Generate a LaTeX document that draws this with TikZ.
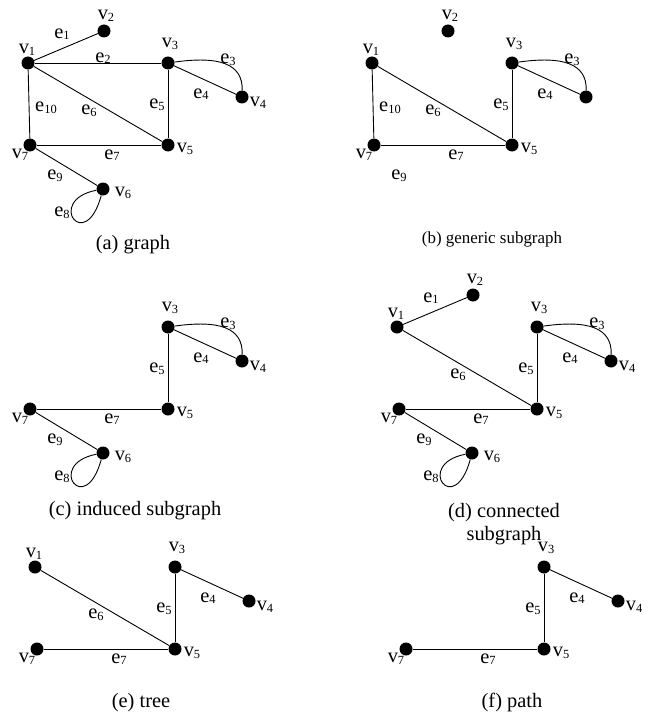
\documentclass[tikz,border=0pt]{standalone}
\usepackage{fontspec}
\setmainfont{Liberation Serif}
\newcommand\mysub[2]{#1\lower1.6bp\hbox{\fontsize{12.5}{12.5}\selectfont #2}}
% vertices (dot) and vertex labels
\newcommand\myvA{\node[dot] (v1) at (28,63) {};}
\newcommand\myvB{\node[dot] (v2) at (104,31) {};}
\newcommand\myvC{\node[dot] (v3) at (168,63) {};}
\newcommand\myvD{\node[dot] (v4) at (242,97) {};}
\newcommand\myvE{\node[dot] (v5) at (168,145) {};}
\newcommand\myvF{\node[dot] (v6) at (103,189) {};}
\newcommand\myvG{\node[dot] (v7) at (30,145) {};}
\newcommand\mylA{\node[lab] (lv1) at (27,50) {\mysub{v}{1}};}
\newcommand\mylB{\node[lab] (lv2) at (106,16) {\mysub{v}{2}};}
\newcommand\mylC{\node[lab] (lv3) at (170,44) {\mysub{v}{3}};}
\newcommand\mylD{\node[lab] (lv4) at (258,103) {\mysub{v}{4}};}
\newcommand\mylE{\node[lab] (lv5) at (185,149) {\mysub{v}{5}};}
\newcommand\mylF{\node[lab] (lv6) at (123,193) {\mysub{v}{6}};}
\newcommand\mylG{\node[lab] (lv7) at (20,155) {\mysub{v}{7}};}
% edges with labels
\newcommand\myeA{\draw[edgeline] (v1) -- (v2); \node[lab] (le1) at (62,34) {\mysub{e}{1}};}
\newcommand\myeB{\draw[edgeline] (v1) -- (v3); \node[lab] (le2) at (103,58) {\mysub{e}{2}};}
\newcommand\myeC{\draw[edgeline] (v3) .. controls +(50,-7) and +(1,-34) .. (v4); \node[lab] (le3) at (228,60) {\mysub{e}{3}};}
\newcommand\myeD{\draw[edgeline] (v3) -- (v4); \node[lab] (le4) at (201,94) {\mysub{e}{4}};}
\newcommand\myeE{\draw[edgeline] (v3) -- (v5); \node[lab] (le5) at (157,105) {\mysub{e}{5}};}
\newcommand\myeF{\draw[edgeline] (v1) -- (v5); \node[lab] (le6) at (89,111) {\mysub{e}{6}};}
\newcommand\myeG{\draw[edgeline] (v7) -- (v5); \node[lab] (le7) at (112,155) {\mysub{e}{7}};}
\newcommand\myeH{\draw[edgeline] (v6) .. controls +(-58,11) and +(-18,66) .. (v6); \node[lab] (le8) at (62,213) {\mysub{e}{8}};}
\newcommand\myeI{\draw[edgeline] (v7) -- (v6); \node[lab] (le9) at (55,176) {\mysub{e}{9}};}
\newcommand\myeJ{\draw[edgeline] (v1) -- (v7); \node[lab] (le10) at (46,108) {\mysub{e}{10}};}
\begin{document}
\begin{tikzpicture}[x=1bp,y=-1bp,
  dot/.style={circle,fill=black,draw=none,inner sep=0pt,minimum size=13bp},
  lab/.style={inner sep=0pt,font=\fontsize{20.5}{23}\selectfont},
  edgeline/.style={line width=0.9bp,black},
  captxt/.style={inner sep=0pt,anchor=base,font=\fontsize{20.5}{23}\selectfont},
  captsmall/.style={inner sep=0pt,anchor=base,font=\fontsize{17}{19}\selectfont}]
\fill[white] (0,0) rectangle (657,712);
\useasboundingbox (0,0) rectangle (657,712);
% (a) graph
\begin{scope}[name prefix=a-]
\myvA\myvB\myvC\myvD\myvE\myvF\myvG
\myeA\myeB\myeC\myeD\myeE\myeF\myeG\myeH\myeI\myeJ
\mylA\mylB\mylC\mylD\mylE\mylF\mylG
\end{scope}
\node[captxt] (capa) at (133,249) {(a) graph};
% (b) generic subgraph
\begin{scope}[shift={(344,0)},name prefix=b-]
\myvA\myvB\myvC\myvD\myvE\myvG
\myeC\myeD\myeE\myeF\myeG\myeJ
\node[lab] (le9) at (55,176) {\mysub{e}{9}};
\mylA\mylB\mylC\mylE\mylG
\end{scope}
\node[captsmall] (capb) at (492,243) {(b) generic subgraph};
% (c) induced subgraph
\begin{scope}[shift={(0,264)},name prefix=c-]
\myvC\myvD\myvE\myvF\myvG
\myeC\myeD\myeE\myeG\myeH\myeI
\mylC\mylD\mylE\mylF\mylG
\end{scope}
\node[captxt] (capc) at (135,515) {(c) induced subgraph};
% (d) connected subgraph
\begin{scope}[shift={(369,264)},name prefix=d-]
\myvA\myvB\myvC\myvD\myvE\myvF\myvG
\myeA\myeC\myeD\myeE\myeF\myeG\myeH\myeI
\mylA\mylB\mylC\mylD\mylE\mylF\mylG
\end{scope}
\node[captxt] (capd1) at (504,517) {(d) connected};
\node[captxt] (capd2) at (504,540) {subgraph};
% (e) tree
\begin{scope}[shift={(7,504)},name prefix=e-]
\myvA\myvC\myvD\myvE\myvG
\myeD\myeE\myeF\myeG
\mylA\mylC\mylD\mylE\mylG
\end{scope}
\node[captxt] (cape) at (141,707) {(e) tree};
% (f) path
\begin{scope}[shift={(376,504)},name prefix=f-]
\myvC\myvD\myvE\myvG
\myeD\myeE\myeG
\mylC\mylD\mylE\mylG
\end{scope}
\node[captxt] (capf) at (512,707) {(f) path};
\end{tikzpicture}
\end{document}
